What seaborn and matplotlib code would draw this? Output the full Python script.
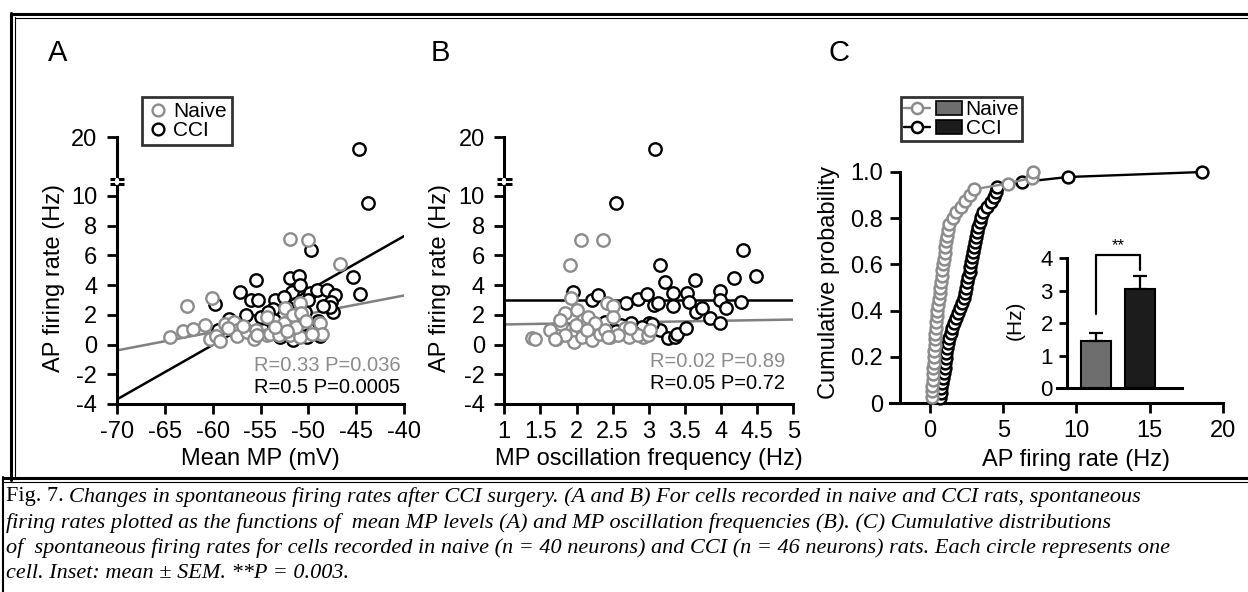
import numpy as np
import pandas as pd
import seaborn as sns
import matplotlib.pyplot as plt
from matplotlib.lines import Line2D
from matplotlib.patches import Patch
from matplotlib.legend_handler import HandlerTuple

sns.set_theme(style="ticks", rc={"axes.edgecolor": "black", "xtick.color": "black",
                                 "ytick.color": "black", "text.color": "black",
                                 "axes.labelcolor": "black"})
plt.rcParams["font.family"] = ["Liberation Sans", "DejaVu Sans"]
plt.rcParams["axes.unicode_minus"] = False

# ---------------- data ----------------
# A: mean MP (mV) vs AP firing rate (Hz)
a_naive_mp = [-64.4, -63.1, -62.7, -62.0, -60.8, -60.3, -60.1, -59.6, -59.2, -58.7,
              -57.8, -57.5, -57.5, -56.4, -55.7, -55.5, -54.3, -54.3, -54.0, -53.1,
              -52.6, -52.4, -51.9, -51.9, -51.6, -50.9, -50.9, -50.8, -50.0, -48.8,
              -48.6, -46.7, -55.4, -53.5, -51.3, -49.6, -56.8, -58.4, -52.2, -50.3]
a_naive_rate = [0.5, 0.9, 2.6, 1.05, 1.3, 0.35, 3.1, 0.6, 0.25, 1.35,
                1.5, 0.96, 0.6, 0.85, 0.4, 0.96, 1.86, 0.63, 0.74, 0.63,
                1.42, 2.43, 7.1, 0.63, 1.97, 2.76, 0.5, 2.09, 7.0, 1.42,
                0.74, 5.4, 0.63, 1.2, 1.2, 0.7, 1.25, 1.1, 0.9, 1.6]
a_cci_mp = [-59.7, -59.4, -57.1, -56.0, -55.3, -55.5, -55.7, -54.9, -54.7, -53.5,
            -53.7, -53.6, -53.6, -52.8, -51.9, -51.0, -51.7, -50.9, -51.0, -51.6,
            -50.2, -49.8, -49.8, -49.1, -48.1, -47.2, -47.6, -47.4, -47.7, -50.0,
            -49.7, -45.3, -44.6, -44.7, -43.8, -52.2, -50.4, -49.0, -48.5, -52.5,
            -54.2, -56.5, -58.3, -50.6, -48.8, -53.0]
a_cci_rate = [2.7, 1.0, 3.55, 3.0, 3.0, 4.35, 1.6, 1.85, 1.0, 3.0,
              2.4, 1.2, 1.65, 1.2, 4.45, 4.6, 3.5, 4.0, 0.75, 0.3,
              0.5, 1.0, 3.45, 3.65, 3.65, 3.3, 2.85, 2.2, 2.5, 3.0,
              6.35, 4.55, 3.4, 18.6, 9.55, 2.5, 2.2, 1.6, 2.6, 3.2,
              2.2, 2.0, 1.7, 1.4, 0.6, 0.5]
a_fit_x = [-70, -40]
a_fit_naive = [-0.4, 3.3]
a_fit_cci = [-3.7, 7.3]

# B: MP oscillation frequency (Hz) vs AP firing rate (Hz)
b_naive_freq = [1.39, 1.42, 1.63, 1.72, 1.79, 1.84, 1.91, 1.93, 2.0, 2.06,
                1.92, 1.96, 2.07, 2.13, 2.09, 2.21, 2.23, 2.32, 2.37, 2.39,
                2.42, 2.51, 2.51, 2.46, 2.67, 2.72, 2.92, 1.77, 2.16, 1.84,
                2.85, 2.99, 3.02, 2.58, 2.74, 1.99, 2.25, 2.14, 2.44, 1.70]
b_naive_rate = [0.45, 0.4, 0.96, 0.4, 1.37, 2.09, 5.35, 3.1, 2.31, 7.03,
                0.63, 0.18, 0.51, 1.08, 1.64, 0.29, 1.42, 0.74, 7.03, 0.96,
                2.76, 2.6, 1.86, 0.51, 1.08, 0.51, 0.51, 1.64, 1.86, 0.63,
                0.63, 0.63, 0.97, 0.63, 1.08, 1.3, 1.42, 0.97, 0.52, 0.36]
b_cci_freq = [1.95, 2.21, 2.29, 2.48, 2.55, 2.68, 2.76, 2.85, 2.97, 3.0,
              3.07, 3.09, 3.13, 3.15, 3.15, 3.22, 3.27, 3.33, 3.34, 3.36,
              3.39, 3.51, 3.53, 3.56, 3.64, 3.66, 3.73, 3.85, 3.98, 3.98,
              3.99, 4.07, 4.18, 4.28, 4.30, 4.49, 3.05, 2.62, 2.35, 2.9,
              2.05, 2.4, 2.2, 2.55, 2.8, 1.9]
b_cci_rate = [3.55, 2.99, 3.33, 0.97, 9.55, 2.81, 1.42, 3.03, 3.39, 1.42,
              2.65, 18.6, 2.76, 5.35, 0.97, 4.2, 0.45, 3.44, 2.56, 0.52,
              0.74, 1.08, 3.44, 2.88, 4.34, 2.2, 2.43, 1.8, 3.6, 2.99,
              1.42, 2.43, 4.45, 2.88, 6.33, 4.58, 1.4, 1.3, 0.9, 1.2,
              1.2, 1.5, 0.6, 0.9, 0.8, 1.0]
b_fit_x = [1, 5]
b_fit_naive = [1.35, 1.68]
b_fit_cci = [3.0, 3.0]

# C: sorted firing rates (Hz) for the cumulative curves
c_naive_rate = [0.12, 0.14, 0.16, 0.18, 0.2, 0.22, 0.24, 0.26, 0.28, 0.31,
                0.34, 0.37, 0.4, 0.43, 0.46, 0.5, 0.55, 0.6, 0.65, 0.7,
                0.75, 0.8, 0.85, 0.9, 0.95, 1.0, 1.05, 1.1, 1.15, 1.25,
                1.3, 1.55, 1.8, 2.1, 2.4, 2.7, 3.0, 5.3, 6.95, 7.05]
c_cci_rate = [0.68, 0.72, 0.78, 0.84, 0.9, 0.95, 1.0, 1.05, 1.08, 1.12,
              1.15, 1.22, 1.3, 1.4, 1.5, 1.65, 1.8, 1.9, 2.05, 2.2,
              2.3, 2.4, 2.48, 2.55, 2.62, 2.7, 2.75, 2.8, 2.87, 2.95,
              3.02, 3.1, 3.17, 3.23, 3.3, 3.4, 3.5, 3.6, 3.9, 4.15,
              4.35, 4.5, 4.6, 6.3, 9.4, 18.6]
inset_groups = ["Naive", "CCI"]
inset_mean = [1.45, 3.05]
inset_sem = [0.25, 0.4]
sig_bracket = [2.3, 4.1, 4.1, 3.65]

GRAY = "#8c8c8c"
BAR_GRAY = "#6e6e6e"
BAR_BLACK = "#1c1c1c"

# broken y axis for A and B: linear up to ~10.9, compressed segment up to 20
LO, HI, EPS, K = 10.9, 14.8, 0.01, 0.58
T_HI = LO + (HI - LO) * EPS


def fwd(y):
    y = np.asarray(y, float)
    return np.where(y <= LO, y, np.where(y < HI, LO + (y - LO) * EPS, T_HI + (y - HI) * K))


def inv(t):
    t = np.asarray(t, float)
    return np.where(t <= LO, t, np.where(t < T_HI, LO + (t - LO) / EPS, HI + (t - T_HI) / K))


W, H = 1248, 592
fig = plt.figure(figsize=(W / 100, H / 100), dpi=100)


def box(l, t, r, b):
    return [l / W, 1 - b / H, (r - l) / W, (b - t) / H]


axA = fig.add_axes(box(116.7, 137, 404.3, 404))
axB = fig.add_axes(box(504.3, 137, 793.3, 404))
axC = fig.add_axes(box(890, 172, 1223, 403))
axI = fig.add_axes(box(1056.7, 258.3, 1181.7, 388.3))

TICK = 17
LAB = 17


def style(ax, ypad=6):
    sns.despine(ax=ax)
    for s in ("left", "bottom"):
        ax.spines[s].set_linewidth(2.2)
    ax.tick_params(width=2, length=7, labelsize=TICK)
    ax.tick_params(axis="x", pad=5)
    ax.tick_params(axis="y", pad=ypad)
    ax.patch.set_alpha(0)


mk = dict(s=80, color="white", linewidth=1.7)

# ---------------- panel A ----------------
dfa_n = pd.DataFrame({"mp": a_naive_mp, "rate": a_naive_rate})
dfa_c = pd.DataFrame({"mp": a_cci_mp, "rate": a_cci_rate})
sns.lineplot(x=a_fit_x, y=a_fit_cci, color="black", lw=1.8, ax=axA, zorder=2)
sns.lineplot(x=a_fit_x, y=a_fit_naive, color="#808080", lw=1.8, ax=axA, zorder=2)
sns.scatterplot(data=dfa_c, x="mp", y="rate", edgecolor="black", ax=axA, zorder=3, **mk)
sns.scatterplot(data=dfa_n, x="mp", y="rate", edgecolor=GRAY, ax=axA, zorder=4, **mk)
axA.set_xlim(-70, -40)
axA.set_xticks(range(-70, -39, 5))
axA.set_xlabel("Mean MP (mV)", fontsize=LAB, va="center")
axA.text(-40.4, -1.4, "R=0.33 P=0.036", color=GRAY, fontsize=14.5, ha="right", va="center")
axA.text(-40.4, -2.88, "R=0.5 P=0.0005", color="black", fontsize=14.5, ha="right", va="center")

# ---------------- panel B ----------------
dfb_n = pd.DataFrame({"freq": b_naive_freq, "rate": b_naive_rate})
dfb_c = pd.DataFrame({"freq": b_cci_freq, "rate": b_cci_rate})
sns.lineplot(x=b_fit_x, y=b_fit_cci, color="black", lw=1.8, ax=axB, zorder=2)
sns.lineplot(x=b_fit_x, y=b_fit_naive, color="#808080", lw=1.8, ax=axB, zorder=2)
sns.scatterplot(data=dfb_c, x="freq", y="rate", edgecolor="black", ax=axB, zorder=3, **mk)
sns.scatterplot(data=dfb_n, x="freq", y="rate", edgecolor=GRAY, ax=axB, zorder=4, **mk)
axB.set_xlim(1, 5)
axB.set_xticks([1, 1.5, 2, 2.5, 3, 3.5, 4, 4.5, 5])
axB.set_xticklabels(["1", "1.5", "2", "2.5", "3", "3.5", "4", "4.5", "5"])
axB.set_xlabel("MP oscillation frequency (Hz)", fontsize=LAB, va="center")
axB.text(4.885, -1.12, "R=0.02 P=0.89", color=GRAY, fontsize=14.5, ha="right", va="center")
axB.text(4.885, -2.6, "R=0.05 P=0.72", color="black", fontsize=14.5, ha="right", va="center")

for ax, lx in ((axA, -0.218), (axB, -0.2225)):
    ax.set_yscale("function", functions=(fwd, inv))
    ax.set_ylim(-4, 20)
    ax.set_yticks([-4, -2, 0, 2, 4, 6, 8, 10, 20])
    ax.set_yticklabels(["-4", "-2", "0", "2", "4", "6", "8", "10", "20"])
    ax.minorticks_off()
    ax.set_ylabel("AP firing rate (Hz)", fontsize=LAB, va="center")
    ax.yaxis.set_label_coords(lx, 0.472)
    ax.xaxis.set_label_coords(0.5, -0.205)
    style(ax, ypad=7)
    # axis break mark
    frac = (fwd(LO) - fwd(-4)) / (fwd(20) - fwd(-4))
    ax.plot([-0.025, 0.025], [frac + 0.012] * 2, transform=ax.transAxes, color="black",
            lw=2.2, clip_on=False, solid_capstyle="butt", zorder=6)
    ax.plot([-0.025, 0.025], [frac - 0.005] * 2, transform=ax.transAxes, color="black",
            lw=2.2, clip_on=False, solid_capstyle="butt", zorder=6)
    ax.plot([0, 0], [frac - 0.001, frac + 0.008], transform=ax.transAxes, color="white",
            lw=3, clip_on=False, zorder=6)

# legend for A
hA = [Line2D([], [], ls="", marker="o", ms=8.5, mfc="white", mec=c, mew=1.7) for c in (GRAY, "black")]
legA = axA.legend(hA, ["Naive", "CCI"], loc="upper left", bbox_to_anchor=(142 / W, 1 - 97 / H),
                  bbox_transform=fig.transFigure, fontsize=15, frameon=True, fancybox=False,
                  edgecolor="black", borderpad=0.25, handletextpad=0.25, labelspacing=0.0,
                  handlelength=1.0, borderaxespad=0)
legA.get_frame().set_linewidth(2)

# ---------------- panel C ----------------
dfc_n = pd.DataFrame({"rate": c_naive_rate,
                      "prob": np.arange(1, len(c_naive_rate) + 1) / len(c_naive_rate)})
dfc_c = pd.DataFrame({"rate": c_cci_rate,
                      "prob": np.arange(1, len(c_cci_rate) + 1) / len(c_cci_rate)})
line_kw = dict(sort=False, estimator=None, lw=1.7, marker="o", ms=8.5, mfc="white", mew=1.8,
               clip_on=False)
sns.lineplot(data=dfc_c, x="rate", y="prob", color="black", mec="black", ax=axC, zorder=3, **line_kw)
sns.lineplot(data=dfc_n, x="rate", y="prob", color=GRAY, mec=GRAY, ax=axC, zorder=4, **line_kw)
axC.set_xlim(-2.73, 20)
axC.set_ylim(0, 1)
axC.set_xticks([0, 5, 10, 15, 20])
axC.set_yticks([0, 0.2, 0.4, 0.6, 0.8, 1.0])
axC.set_yticklabels(["0", "0.2", "0.4", "0.6", "0.8", "1.0"])
axC.set_xlabel("AP firing rate (Hz)", fontsize=LAB, va="center")
axC.set_ylabel("Cumulative probability", fontsize=LAB, va="center")
axC.yaxis.set_label_coords(-0.183, 0.524)
axC.xaxis.set_label_coords(0.56, -0.245)
style(axC, ypad=5)
axC.spines["left"].set_position(("axes", 0.03))

hC = [(Line2D([], [], color=c, lw=1.7, marker="o", ms=8, mfc="white", mec=c, mew=1.8),
       Patch(fc=f, ec="black", lw=1.2)) for c, f in ((GRAY, BAR_GRAY), ("black", BAR_BLACK))]
legC = axC.legend(hC, ["Naive", "CCI"], loc="upper left", bbox_to_anchor=(901 / W, 1 - 97 / H),
                  bbox_transform=fig.transFigure, fontsize=15, frameon=True, fancybox=False,
                  edgecolor="black", borderpad=0.15, handletextpad=0.15, labelspacing=0.0,
                  handlelength=2.8, borderaxespad=0,
                  handler_map={tuple: HandlerTuple(ndivide=None, pad=0.3)})
legC.get_frame().set_linewidth(2)

# inset bars (mean +/- SEM)
sns.barplot(x=inset_groups, y=inset_mean, hue=inset_groups, palette=[BAR_GRAY, BAR_BLACK],
            edgecolor="black", linewidth=1.5, width=0.674, legend=False, ax=axI)
axI.errorbar([0, 1], inset_mean, yerr=[[0, 0], inset_sem], fmt="none", ecolor="black",
             elinewidth=1.6, capsize=5, capthick=1.6, zorder=5)
axI.plot([0, 0, 1, 1], sig_bracket, color="black", lw=1.6, clip_on=False)
axI.text(0.5, sig_bracket[1] + 0.05, "**", ha="center", va="bottom", fontsize=12)
axI.set_xlim(-0.883, 1.926)
axI.set_ylim(0, 4)
axI.set_yticks([0, 1, 2, 3, 4])
axI.set_xticks([])
axI.set_xlabel("")
axI.set_ylabel("(Hz)", fontsize=15, va="center")
axI.yaxis.set_label_coords(-0.334, 0.525)
style(axI, ypad=4)
axI.spines["left"].set_position(("axes", 0.08))
axI.tick_params(labelsize=16, length=6)

# panel letters
for x, s in ((48, "A"), (431, "B"), (829, "C")):
    fig.text(x / W, 1 - 53 / H, s, fontsize=21, ha="left", va="center")

# frame lines
def hline(y, x0, x1, lw):
    fig.add_artist(Line2D([x0 / W, x1 / W], [1 - y / H] * 2, color="black", lw=lw))


def vline(x, y0, y1, lw):
    fig.add_artist(Line2D([x / W] * 2, [1 - y0 / H, 1 - y1 / H], color="black", lw=lw))


hline(14, 11, W, 2.2)
hline(18, 15, W, 0.8)
vline(11, 13, 480, 2.2)
vline(15, 17, 478, 0.8)
hline(478, 3, W, 2.2)
hline(482, 3, W, 0.8)
vline(3, 477, H, 1.5)

# caption
cap = dict(family=["Liberation Serif", "DejaVu Serif"], size=16, va="center", ha="left")
renderer = fig.canvas.get_renderer()
t0 = fig.text(6 / W, 1 - 497 / H, "Fig. 7. ", **cap)
x1 = t0.get_window_extent(renderer).x1
fig.text(x1 / W, 1 - 497 / H, "Changes in spontaneous firing rates after CCI surgery. (A and B) For cells "
         "recorded in naive and CCI rats, spontaneous", style="italic", **cap)
lines = ["firing rates plotted as the functions of  mean MP levels (A) and MP oscillation "
         "frequencies (B). (C) Cumulative distributions",
         "of  spontaneous firing rates for cells recorded in naive (n = 40 neurons) and CCI "
         "(n = 46 neurons) rats. Each circle represents one",
         "cell. Inset: mean \u00b1 SEM. **P = 0.003."]
for i, s in enumerate(lines):
    fig.text(6 / W, 1 - (523 + 25 * i) / H, s, style="italic", **cap)

fig.savefig("out.png", dpi=100)
